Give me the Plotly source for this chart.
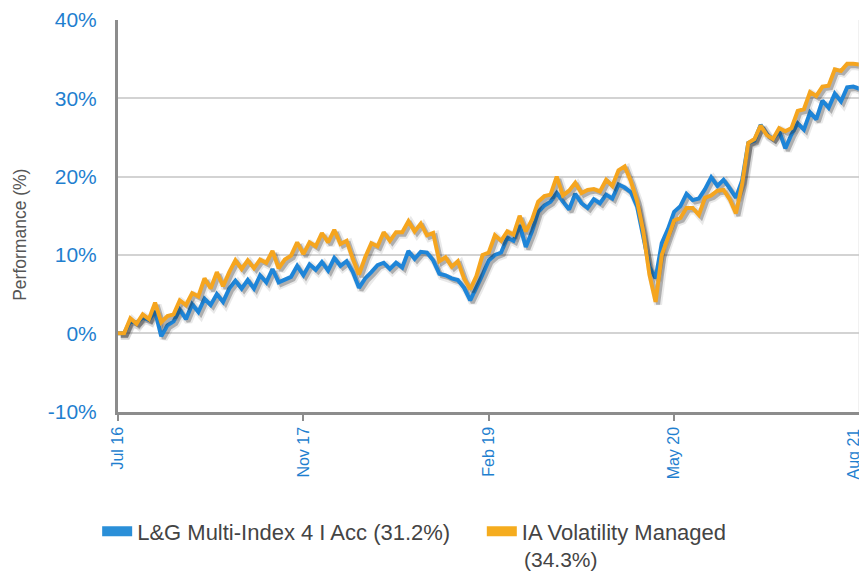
import plotly.graph_objects as go

# x axis: half-monthly observations, Jul 2016 -> Aug 2021
tick_labels = ["Jul 16", "Nov 17", "Feb 19", "May 20", "Aug 21"]
tick_pos = [0, 30, 60, 90, 120]
y_tick_vals = [-10, 0, 10, 20, 30, 40]
y_tick_labels = ["-10%", "0%", "10%", "20%", "30%", "40%"]

fund_name = "L&G Multi-Index 4 I Acc (31.2%)"
sector_name = "IA Volatility Managed"
sector_return = "(34.3%)"

fund = [
    0.0, 0.0, 1.6, 1.3, 2.0, 1.7, 2.8, -0.4, 1.0, 1.5,
    3.0, 1.8, 3.7, 2.7, 4.4, 3.6, 5.0, 4.0, 5.7, 6.7,
    5.7, 6.8, 5.7, 7.4, 6.5, 8.2, 6.5, 6.8, 7.2, 8.6,
    7.4, 8.8, 8.1, 9.1, 8.0, 9.6, 8.6, 9.2, 7.8, 5.8,
    7.0, 7.8, 8.7, 9.0, 8.2, 9.0, 8.4, 10.5, 9.5, 10.4,
    10.3, 9.3, 7.6, 7.4, 7.0, 6.8, 5.8, 4.2, 5.8, 7.5,
    9.3, 10.0, 10.3, 12.2, 11.8, 13.8, 11.0, 13.0, 15.5, 16.3,
    16.8, 17.9, 16.8, 15.8, 17.8, 16.6, 16.0, 17.1, 16.6, 17.7,
    17.2, 19.0, 18.6, 18.0, 16.2, 12.5, 8.5, 7.0, 11.5, 13.3,
    15.5, 16.2, 17.8, 17.0, 17.2, 18.4, 19.9, 18.8, 19.6, 18.5,
    17.3, 19.5, 24.3, 24.6, 26.6, 25.4, 24.8, 25.8, 23.6, 25.4,
    26.8, 26.0, 28.2, 27.3, 29.7, 28.8, 30.6, 29.6, 31.4, 31.5,
    31.2,
]

sector = [
    0.0, 0.0, 1.9, 1.2, 2.4, 1.8, 3.9, 1.4, 2.2, 2.4,
    4.2, 3.6, 5.1, 4.7, 7.0, 5.7, 7.8, 6.0, 7.8, 9.3,
    8.2, 9.3, 8.3, 9.4, 9.0, 10.5, 8.3, 9.4, 9.9, 11.6,
    10.1, 11.6, 11.1, 12.8, 11.6, 13.2, 11.4, 11.8, 9.5, 7.5,
    9.7, 11.5, 11.1, 12.9, 11.8, 12.9, 12.9, 14.3, 13.0, 14.0,
    12.5, 12.8, 9.2, 9.7, 8.5, 9.2, 7.0, 5.6, 7.3, 10.0,
    10.3, 12.5, 11.8, 13.0, 12.6, 15.0, 13.0, 14.5, 16.8, 17.5,
    17.7, 20.0, 17.6, 18.2, 19.2, 17.9, 18.3, 18.4, 18.1, 19.6,
    18.8, 20.8, 21.3, 19.4, 16.9, 13.0, 7.5, 4.0, 10.0, 12.3,
    14.4, 14.7, 16.0, 16.0, 15.1, 17.3, 17.6, 18.2, 18.3, 17.1,
    15.3, 19.0, 24.3, 24.8, 26.5, 25.3, 24.8, 26.2, 25.8, 26.2,
    28.4, 28.6, 30.8, 30.3, 31.5, 31.6, 33.7, 33.5, 34.4, 34.4,
    34.3,
]

periods = list(range(len(fund)))

COLORS = {
    "fund": "#1E85D8",
    "sector": "#F5A51F",
    "tick": "#1F7FCF",
    "grid": "#D3D3D3",
    "axis": "#8C8C8C",
    "text": "#555555",
    "legend": "#444444",
}

# page body adds an 8px offset, margins below compensate for it
W, H = 867, 571
M_L, M_T, M_R, M_B = 110, 12, 12.5, 164.5
PW = W - M_L - M_R
PH = H - M_T - M_B

# shadow axes are nudged a couple of pixels right/down
DX = 2.5 / PW
DY = 2.5 / PH
X_RANGE = [0, 120]
Y_RANGE = [-10, 40]
MAIN_X = [0, 1 - DX]
MAIN_Y = [DY, 1]
SHADOW_X = [DX, 1]
SHADOW_Y = [0, 1 - DY]

fig = go.Figure()

# each layer gets its own invisible overlay subplot so draw order is kept:
# blue shadow, blue line, orange shadow, orange line
layers = [(fund, COLORS["fund"], 2), (sector, COLORS["sector"], 4)]
extra_axes = {}
for series, color, n in layers:
    sx, sy = f"x{n}", f"y{n}"
    lx, ly = f"x{n + 1}", f"y{n + 1}"
    extra_axes[f"xaxis{n}"] = dict(domain=SHADOW_X, range=X_RANGE, anchor=sy, visible=False)
    extra_axes[f"yaxis{n}"] = dict(domain=SHADOW_Y, range=Y_RANGE, anchor=sx, visible=False)
    extra_axes[f"xaxis{n + 1}"] = dict(domain=MAIN_X, range=X_RANGE, anchor=ly, visible=False)
    extra_axes[f"yaxis{n + 1}"] = dict(domain=MAIN_Y, range=Y_RANGE, anchor=lx, visible=False)

    fig.add_trace(go.Scatter(
        x=periods, y=series, mode="lines", xaxis=sx, yaxis=sy,
        line=dict(color="rgba(40,40,40,0.10)", width=8),
        showlegend=False, hoverinfo="skip",
    ))
    fig.add_trace(go.Scatter(
        x=periods, y=series, mode="lines", xaxis=sx, yaxis=sy,
        line=dict(color="rgba(40,40,40,0.30)", width=4),
        showlegend=False, hoverinfo="skip",
    ))
    fig.add_trace(go.Scatter(
        x=periods, y=series, mode="lines", xaxis=lx, yaxis=ly,
        line=dict(color=color, width=4),
        showlegend=False,
    ))

# legend swatches, one legend box each so they can be placed freely
fig.add_trace(go.Scatter(x=[None], y=[None], mode="lines", name=fund_name,
                         line=dict(color="#2A8FD8", width=10), legend="legend"))
fig.add_trace(go.Scatter(x=[None], y=[None], mode="lines", name=sector_name,
                         line=dict(color="#F5AC1E", width=10), legend="legend2"))

# wrapped second line of the sector legend entry
fig.add_annotation(
    text=sector_return, xref="paper", yref="paper", x=0.5427, y=-0.369,
    xanchor="left", yanchor="middle", showarrow=False,
    font=dict(size=21, color=COLORS["legend"]),
)

# y axis title sits a little below the plot centre in the original
fig.add_annotation(
    text="Performance (%)", xref="paper", yref="paper", x=-0.1316, y=0.455,
    xanchor="center", yanchor="middle", textangle=-90, showarrow=False,
    font=dict(size=17.5, color=COLORS["text"]),
)

# the last date label sits on the right edge; drawn as an annotation and
# pulled in slightly so it stays readable like in the original
fig.add_annotation(
    text=tick_labels[-1], xref="x", yref="paper", x=tick_pos[-1], y=0,
    xanchor="right", yanchor="top", yshift=-13, xshift=4, textangle=-90,
    showarrow=False, font=dict(size=16, color=COLORS["tick"]),
)

fig.add_shape(type="line", xref="x domain", yref="y domain",
              x0=1, x1=1, y0=0, y1=1,
              line=dict(color="#C8C8C8", width=1.5))

legend_style = dict(
    orientation="h", xanchor="left", yanchor="top", y=-0.245,
    font=dict(size=22, color=COLORS["legend"]), itemwidth=30, valign="top",
    bgcolor="rgba(0,0,0,0)",
)

fig.update_layout(
    width=W, height=H,
    paper_bgcolor="white", plot_bgcolor="rgba(0,0,0,0)",
    font=dict(family="Liberation Sans, Arial, sans-serif", color=COLORS["text"]),
    margin=dict(l=M_L, r=M_R, t=M_T, b=M_B),
    xaxis=dict(
        domain=MAIN_X, range=X_RANGE, automargin=False,
        tickvals=tick_pos, ticktext=tick_labels[:-1] + [""], tickangle=-90,
        tickfont=dict(size=16, color=COLORS["tick"]),
        ticks="outside", ticklen=6, tickcolor=COLORS["axis"], tickwidth=2,
        showgrid=False, zeroline=False,
        showline=True, linecolor=COLORS["axis"], linewidth=3,
    ),
    yaxis=dict(
        domain=MAIN_Y, range=Y_RANGE, automargin=False,
        tickvals=y_tick_vals, ticktext=y_tick_labels,
        tickfont=dict(size=21, color=COLORS["tick"]),
        ticks="", ticklabelstandoff=14,
        gridcolor=COLORS["grid"], gridwidth=1.5, zeroline=False,
        showline=True, linecolor=COLORS["axis"], linewidth=3,
    ),
    legend=dict(legend_style, x=-0.028),
    legend2=dict(legend_style, x=0.489),
    **extra_axes,
)

fig.write_html("out.html")
